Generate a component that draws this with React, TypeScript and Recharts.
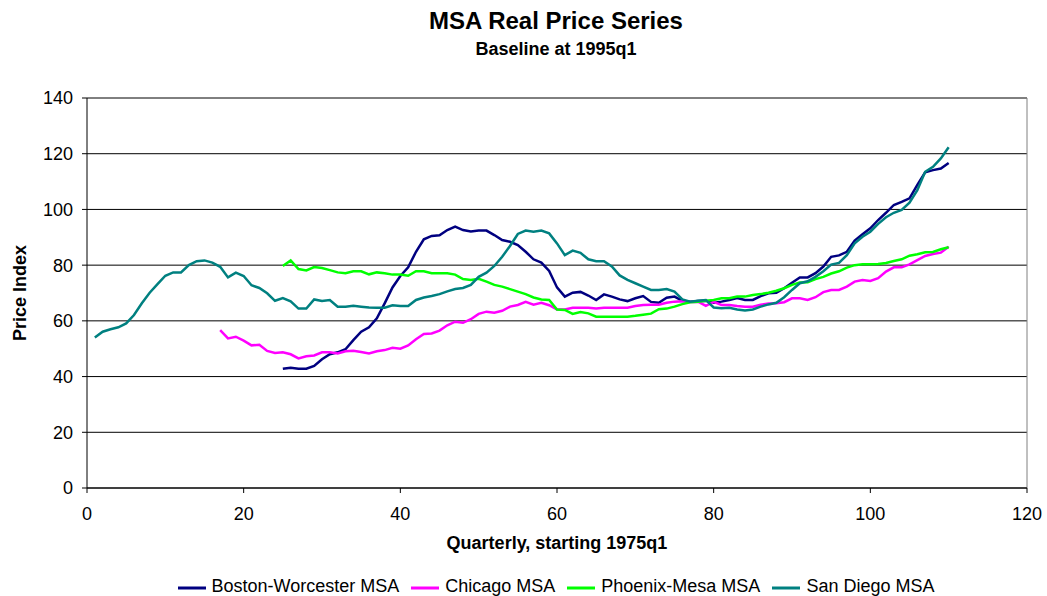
import React from "react";
import {
  CartesianGrid,
  Legend,
  Line,
  LineChart,
  ReferenceLine,
  XAxis,
  YAxis,
} from "recharts";

const FONT = "Arial, 'Liberation Sans', sans-serif";

const QUARTER_TICKS = [0, 20, 40, 60, 80, 100, 120];
const INDEX_TICKS = [0, 20, 40, 60, 80, 100, 120, 140];
const LAST_QUARTER = 110;

// first quarter with data for each MSA
const SAN_DIEGO_START = 1;
const CHICAGO_START = 17;
const BOSTON_START = 25;
const PHOENIX_START = 25;

const sanDiego = [
  54.0, 56.1, 57.0, 57.7, 59.1, 62.1, 66.3, 70.1, 73.2, 76.2,
  77.4, 77.4, 80.0, 81.4, 81.7, 80.9, 79.4, 75.6, 77.3, 76.1,
  72.8, 71.8, 69.9, 67.2, 68.2, 67.0, 64.4, 64.4, 67.7, 67.1,
  67.5, 65.1, 65.1, 65.4, 65.1, 64.8, 64.7, 64.7, 65.6, 65.3,
  65.3, 67.5, 68.4, 68.9, 69.6, 70.6, 71.4, 71.8, 72.9, 75.8,
  77.3, 79.7, 83.0, 86.9, 91.2, 92.4, 92.0, 92.4, 91.4, 87.8,
  83.6, 85.2, 84.4, 82.1, 81.4, 81.4, 79.5, 76.3, 74.7, 73.5,
  72.3, 71.1, 71.1, 71.4, 70.5, 67.7, 66.9, 67.2, 67.5, 64.8,
  64.5, 64.7, 64.1, 63.7, 64.1, 65.1, 65.9, 66.5, 68.5, 71.1,
  73.5, 74.2, 75.8, 77.8, 80.2, 80.8, 83.6, 87.8, 90.2, 92.0,
  94.8, 97.2, 98.8, 99.8, 102.4, 106.9, 113.5, 115.3, 118.3, 122.3,
];

const boston = [
  42.8, 43.2, 42.8, 42.8, 43.8, 46.2,
  48.0, 48.7, 49.8, 53.1, 56.1, 57.7, 60.9, 66.3, 72.0, 76.1,
  79.2, 84.8, 89.3, 90.5, 90.7, 92.6, 93.8, 92.6, 92.1, 92.4,
  92.4, 90.8, 89.0, 88.4, 87.2, 84.8, 82.1, 80.9, 77.9, 72.0,
  68.7, 70.1, 70.4, 69.1, 67.5, 69.5, 68.7, 67.7, 67.1, 68.1,
  68.9, 66.8, 66.5, 68.3, 68.7, 67.2, 66.9, 67.1, 67.2, 66.5,
  66.9, 67.5, 68.2, 67.5, 67.5, 68.9, 69.9, 70.1, 71.7, 73.7,
  75.6, 75.6, 77.1, 79.5, 83.0, 83.5, 84.8, 88.8, 91.1, 93.2,
  96.2, 98.8, 101.6, 102.7, 104.0, 108.8, 113.3, 114.1, 114.7, 116.7,
];

const chicago = [
  56.7, 53.7, 54.3, 52.9,
  51.2, 51.4, 49.2, 48.5, 48.7, 48.0, 46.5, 47.3, 47.6, 48.7,
  48.7, 48.3, 49.1, 49.3, 48.8, 48.3, 49.1, 49.5, 50.3, 50.0,
  51.2, 53.4, 55.3, 55.5, 56.5, 58.4, 59.7, 59.3, 60.6, 62.5,
  63.3, 62.9, 63.6, 65.1, 65.7, 66.8, 65.8, 66.5, 65.6, 64.1,
  64.1, 64.7, 64.7, 64.7, 64.4, 64.7, 64.7, 64.7, 64.7, 65.3,
  65.7, 65.8, 65.8, 66.5, 66.9, 67.0, 66.8, 66.9, 65.4, 66.8,
  65.7, 65.7, 65.3, 65.1, 65.1, 65.8, 66.2, 66.3, 66.7, 68.1,
  68.1, 67.5, 68.5, 70.3, 71.1, 71.1, 72.3, 74.1, 74.7, 74.3,
  75.3, 77.7, 79.2, 79.2, 80.3, 81.8, 83.3, 84.0, 84.5, 86.6,
];

const phoenix = [
  79.7, 81.7, 78.6, 78.1, 79.3, 79.0,
  78.2, 77.4, 77.1, 77.8, 77.8, 76.7, 77.4, 77.1, 76.6, 76.6,
  76.2, 77.8, 77.8, 77.1, 77.1, 77.1, 76.6, 75.0, 74.7, 75.1,
  74.1, 72.9, 72.3, 71.4, 70.5, 69.6, 68.4, 67.7, 67.5, 64.1,
  63.9, 62.5, 63.2, 62.7, 61.5, 61.5, 61.5, 61.5, 61.5, 61.8,
  62.2, 62.6, 64.2, 64.4, 65.1, 66.0, 66.7, 66.9, 67.2, 67.5,
  68.1, 68.1, 68.7, 68.7, 69.3, 69.6, 70.1, 70.8, 71.7, 72.9,
  73.8, 73.9, 75.0, 75.8, 77.0, 77.8, 79.1, 80.0, 80.3, 80.3,
  80.4, 80.8, 81.5, 82.1, 83.4, 83.9, 84.6, 84.7, 85.7, 86.4,
];

const SERIES = [
  { key: "boston", name: "Boston-Worcester MSA", color: "#000080" },
  { key: "chicago", name: "Chicago MSA", color: "#ff00ff" },
  { key: "phoenix", name: "Phoenix-Mesa MSA", color: "#00ff00" },
  { key: "sanDiego", name: "San Diego MSA", color: "#008080" },
];

function pick(values: number[], start: number, q: number) {
  return q >= start ? values[q - start] : null;
}

const data = Array.from({ length: LAST_QUARTER }, (_, i) => {
  const q = i + 1;
  return {
    q,
    boston: pick(boston, BOSTON_START, q),
    chicago: pick(chicago, CHICAGO_START, q),
    phoenix: pick(phoenix, PHOENIX_START, q),
    sanDiego: pick(sanDiego, SAN_DIEGO_START, q),
  };
});

function LegendRow() {
  return (
    <div
      style={{
        display: "flex",
        justifyContent: "center",
        fontFamily: FONT,
        fontSize: 18,
        lineHeight: "20px",
        height: 20,
        color: "#000",
      }}
    >
      {SERIES.map((s, i) => (
        <div
          key={s.key}
          style={{ display: "flex", alignItems: "center", marginLeft: i ? 12 : 0 }}
        >
          <svg width={28} height={20} style={{ marginRight: 6 }}>
            <line x1={0} x2={28} y1={12} y2={12} stroke={s.color} strokeWidth={3} />
          </svg>
          <span>{s.name}</span>
        </div>
      ))}
    </div>
  );
}

export default function App() {
  return (
    <div
      style={{
        position: "absolute",
        left: 0,
        top: 0,
        width: 1047,
        height: 596,
        background: "#fff",
        fontFamily: FONT,
      }}
    >
      <div
        style={{
          position: "absolute",
          left: 556,
          top: 9,
          transform: "translateX(-50%)",
          whiteSpace: "nowrap",
          fontSize: 24,
          lineHeight: "24px",
          fontWeight: "bold",
        }}
      >
        MSA Real Price Series
      </div>
      <div
        style={{
          position: "absolute",
          left: 556,
          top: 40,
          transform: "translateX(-50%)",
          whiteSpace: "nowrap",
          fontSize: 18,
          lineHeight: "18px",
          fontWeight: "bold",
        }}
      >
        Baseline at 1995q1
      </div>
      <LineChart
        width={1047}
        height={596}
        data={data}
        margin={{ top: 98, right: 20, left: 0, bottom: 58 }}
      >
        <CartesianGrid stroke="#000" vertical={false} />
        <XAxis
          dataKey="q"
          type="number"
          domain={[0, 120]}
          ticks={QUARTER_TICKS}
          height={30}
          stroke="#000"
          tickSize={5}
          tickMargin={14}
          tick={{ fill: "#000", fontSize: 18, fontFamily: FONT }}
          label={{
            content: ({ viewBox }: any) => (
              <text
                x={viewBox.x + viewBox.width / 2}
                y={549}
                textAnchor="middle"
                fontFamily={FONT}
                fontSize={18}
                fontWeight="bold"
                fill="#000"
              >
                Quarterly, starting 1975q1
              </text>
            ),
          }}
        />
        <YAxis
          domain={[0, 140]}
          ticks={INDEX_TICKS}
          width={87}
          stroke="#000"
          tickSize={5}
          tickMargin={9}
          tick={{ fill: "#000", fontSize: 18, fontFamily: FONT }}
          label={{
            content: ({ viewBox }: any) => {
              const cy = viewBox.y + viewBox.height / 2;
              return (
                <text
                  x={26}
                  y={cy}
                  transform={`rotate(-90 26 ${cy})`}
                  textAnchor="middle"
                  fontFamily={FONT}
                  fontSize={18}
                  fontWeight="bold"
                  fill="#000"
                >
                  Price Index
                </text>
              );
            },
          }}
        />
        <ReferenceLine x={120} stroke="#808080" />
        <Legend
          content={() => <LegendRow />}
          wrapperStyle={{ top: 576, left: 65, width: 982 }}
        />
        {SERIES.map((s) => (
          <Line
            key={s.key}
            type="linear"
            dataKey={s.key}
            name={s.name}
            stroke={s.color}
            strokeWidth={2.5}
            dot={false}
            isAnimationActive={false}
          />
        ))}
      </LineChart>
    </div>
  );
}
